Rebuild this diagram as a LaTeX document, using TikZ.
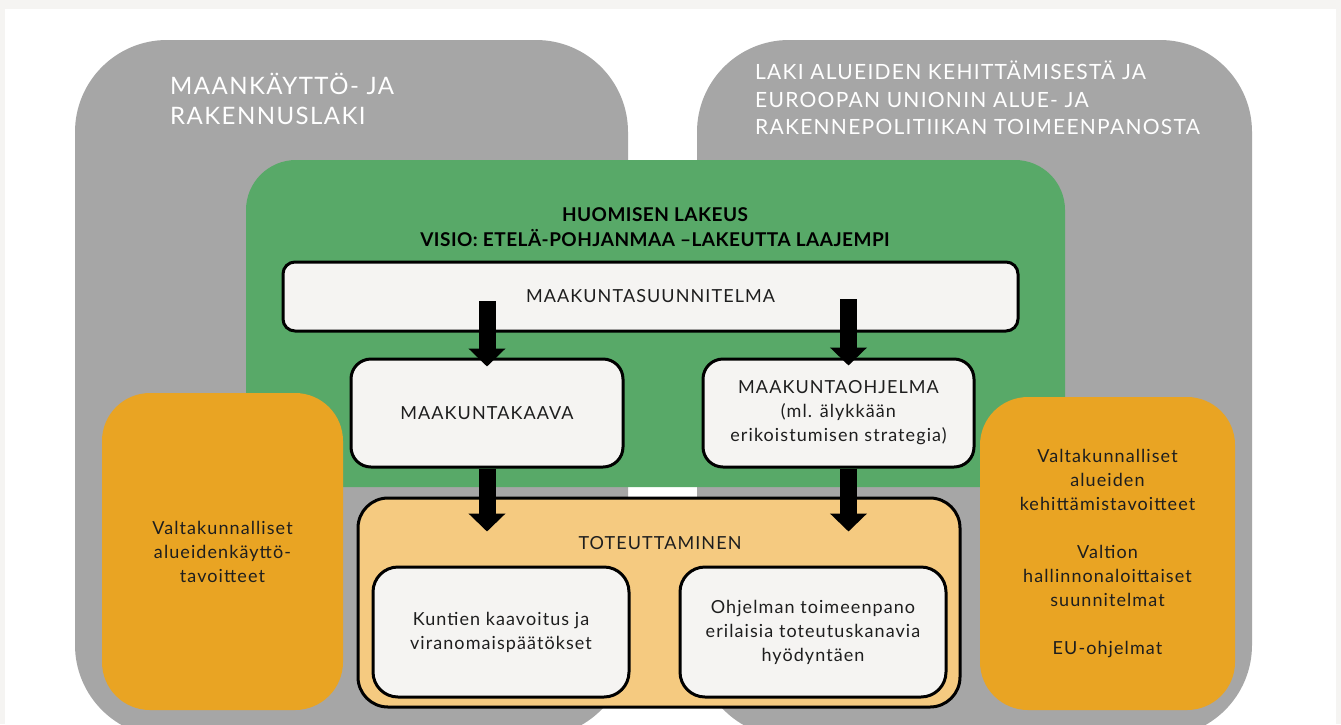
\documentclass[tikz,border=0pt]{standalone}
\usepackage{fontspec}
\setmainfont{Lato}[LetterSpace=6]
\usetikzlibrary{arrows.meta,calc}
\definecolor{bgout}{HTML}{F5F4F2}
\definecolor{greyc}{HTML}{A6A6A6}
\definecolor{greenc}{HTML}{58A968}
\definecolor{orangec}{HTML}{E9A423}
\definecolor{lightor}{HTML}{F5CA80}
\definecolor{boxfill}{HTML}{F5F4F2}
\definecolor{textc}{HTML}{1E1E1E}
\tikzset{
  greybox/.style={fill=greyc, rounded corners=92pt, inner sep=0pt},
  hdr/.style={text=white, align=left, inner sep=0pt},
  greenbox/.style={fill=greenc, rounded corners=50pt, inner sep=0pt},
  orbox/.style={fill=orangec, rounded corners=48pt, inner sep=0pt, align=center, text=textc, font=\fontsize{18}{24}\selectfont},
  whitebox/.style={draw=black, line width=3pt, fill=boxfill, rounded corners=#1, inner sep=0pt, align=center, text=textc, font=\fontsize{18}{24}\selectfont},
  totbox/.style={draw=black, line width=3pt, fill=lightor, rounded corners=30pt, inner sep=0pt},
  bigarrow/.style={line width=17pt, -{Triangle[width=36pt,length=18pt]}}
}
\begin{document}
\begin{tikzpicture}[x=1pt,y=-1pt]
\useasboundingbox (0,0) rectangle (1341,724);
\clip (0,0) rectangle (1341,724);
\fill[bgout] (0,0) rectangle (1341,724);
\fill[white] (5,9) rectangle (1336,730);

% law boxes
\node[greybox, minimum width=553pt, minimum height=697pt] (mrl) at (351.5,388.5) {};
\node[greybox, minimum width=555pt, minimum height=697pt] (lak) at (974.5,388.5) {};
\node[hdr, anchor=north west, font=\fontsize{24}{30}\selectfont] (mrlt) at (170,72.5) {MAANKÄYTTÖ- JA\\RAKENNUSLAKI};
\node[hdr, anchor=north west, font=\fontsize{21}{27.5}\selectfont] (lakt) at (755,61) {LAKI ALUEIDEN KEHITTÄMISESTÄ JA\\EUROOPAN UNIONIN ALUE- JA\\RAKENNEPOLITIIKAN TOIMEENPANOSTA};

% vision box
\node[greenbox, minimum width=819pt, minimum height=327pt] (vis) at (655.5,323.5) {};
\node[font=\bfseries\fontsize{19}{25}\selectfont\addfontfeatures{LetterSpace=2.5}, align=center, text=black, inner sep=0pt] (vist) at (655,227.5) {HUOMISEN LAKEUS\\VISIO: ETELÄ-POHJANMAA –LAKEUTTA LAAJEMPI};

% national goals
\node[orbox, minimum width=241pt, minimum height=317pt] (vat) at (222.5,551.5) {Valtakunnalliset\\alueidenkäyttö-\\tavoitteet};
\node[orbox, minimum width=255pt, minimum height=313pt] (vkt) at (1107.5,553.5) {Valtakunnalliset\\alueiden\\kehittämistavoitteet\\[24pt]Valtion\\hallinnonaloittaiset\\suunnitelmat\\[24pt]EU-ohjelmat};

% plans
\node[whitebox=12pt, minimum width=735pt, minimum height=69pt] (suun) at (650.5,296.5) {MAAKUNTASUUNNITELMA};
\node[whitebox=20pt, minimum width=272pt, minimum height=108pt] (kaava) at (487,413) {MAAKUNTAKAAVA};
\node[whitebox=20pt, minimum width=271pt, minimum height=108pt] (ohj) at (838.5,413) {MAAKUNTAOHJELMA\\(ml. älykkään\\erikoistumisen strategia)};

% implementation
\node[totbox, minimum width=602pt, minimum height=209pt] (tot) at (659,602.5) {};
\node[text=textc, font=\fontsize{18}{24}\selectfont, inner sep=0pt] (tott) at (660,543) {TOTEUTTAMINEN};
\node[whitebox=25pt, minimum width=256pt, minimum height=130pt] (kunt) at (501,632) {Kuntien kaavoitus ja\\viranomaispäätökset};
\node[whitebox=25pt, minimum width=266pt, minimum height=130pt] (ohjt) at (813,632) {Ohjelman toimeenpano\\erilaisia toteutuskanavia\\hyödyntäen};

% arrows
\draw[bigarrow] ($(suun.center -| kaava.center)+(0,4.5)$) -- ($(kaava.north)+(0,9)$);
\draw[bigarrow] ($(suun.center -| ohj.center)+(10,2.5)$) -- ($(ohj.north)+(10,8)$);
\draw[bigarrow] (kaava.south) -- ($(kaava.south |- tot.north)+(0,35)$);
\draw[bigarrow] ($(ohj.south)+(10,0)$) -- ($(ohj.south |- tot.north)+(10,35)$);
\end{tikzpicture}
\end{document}
